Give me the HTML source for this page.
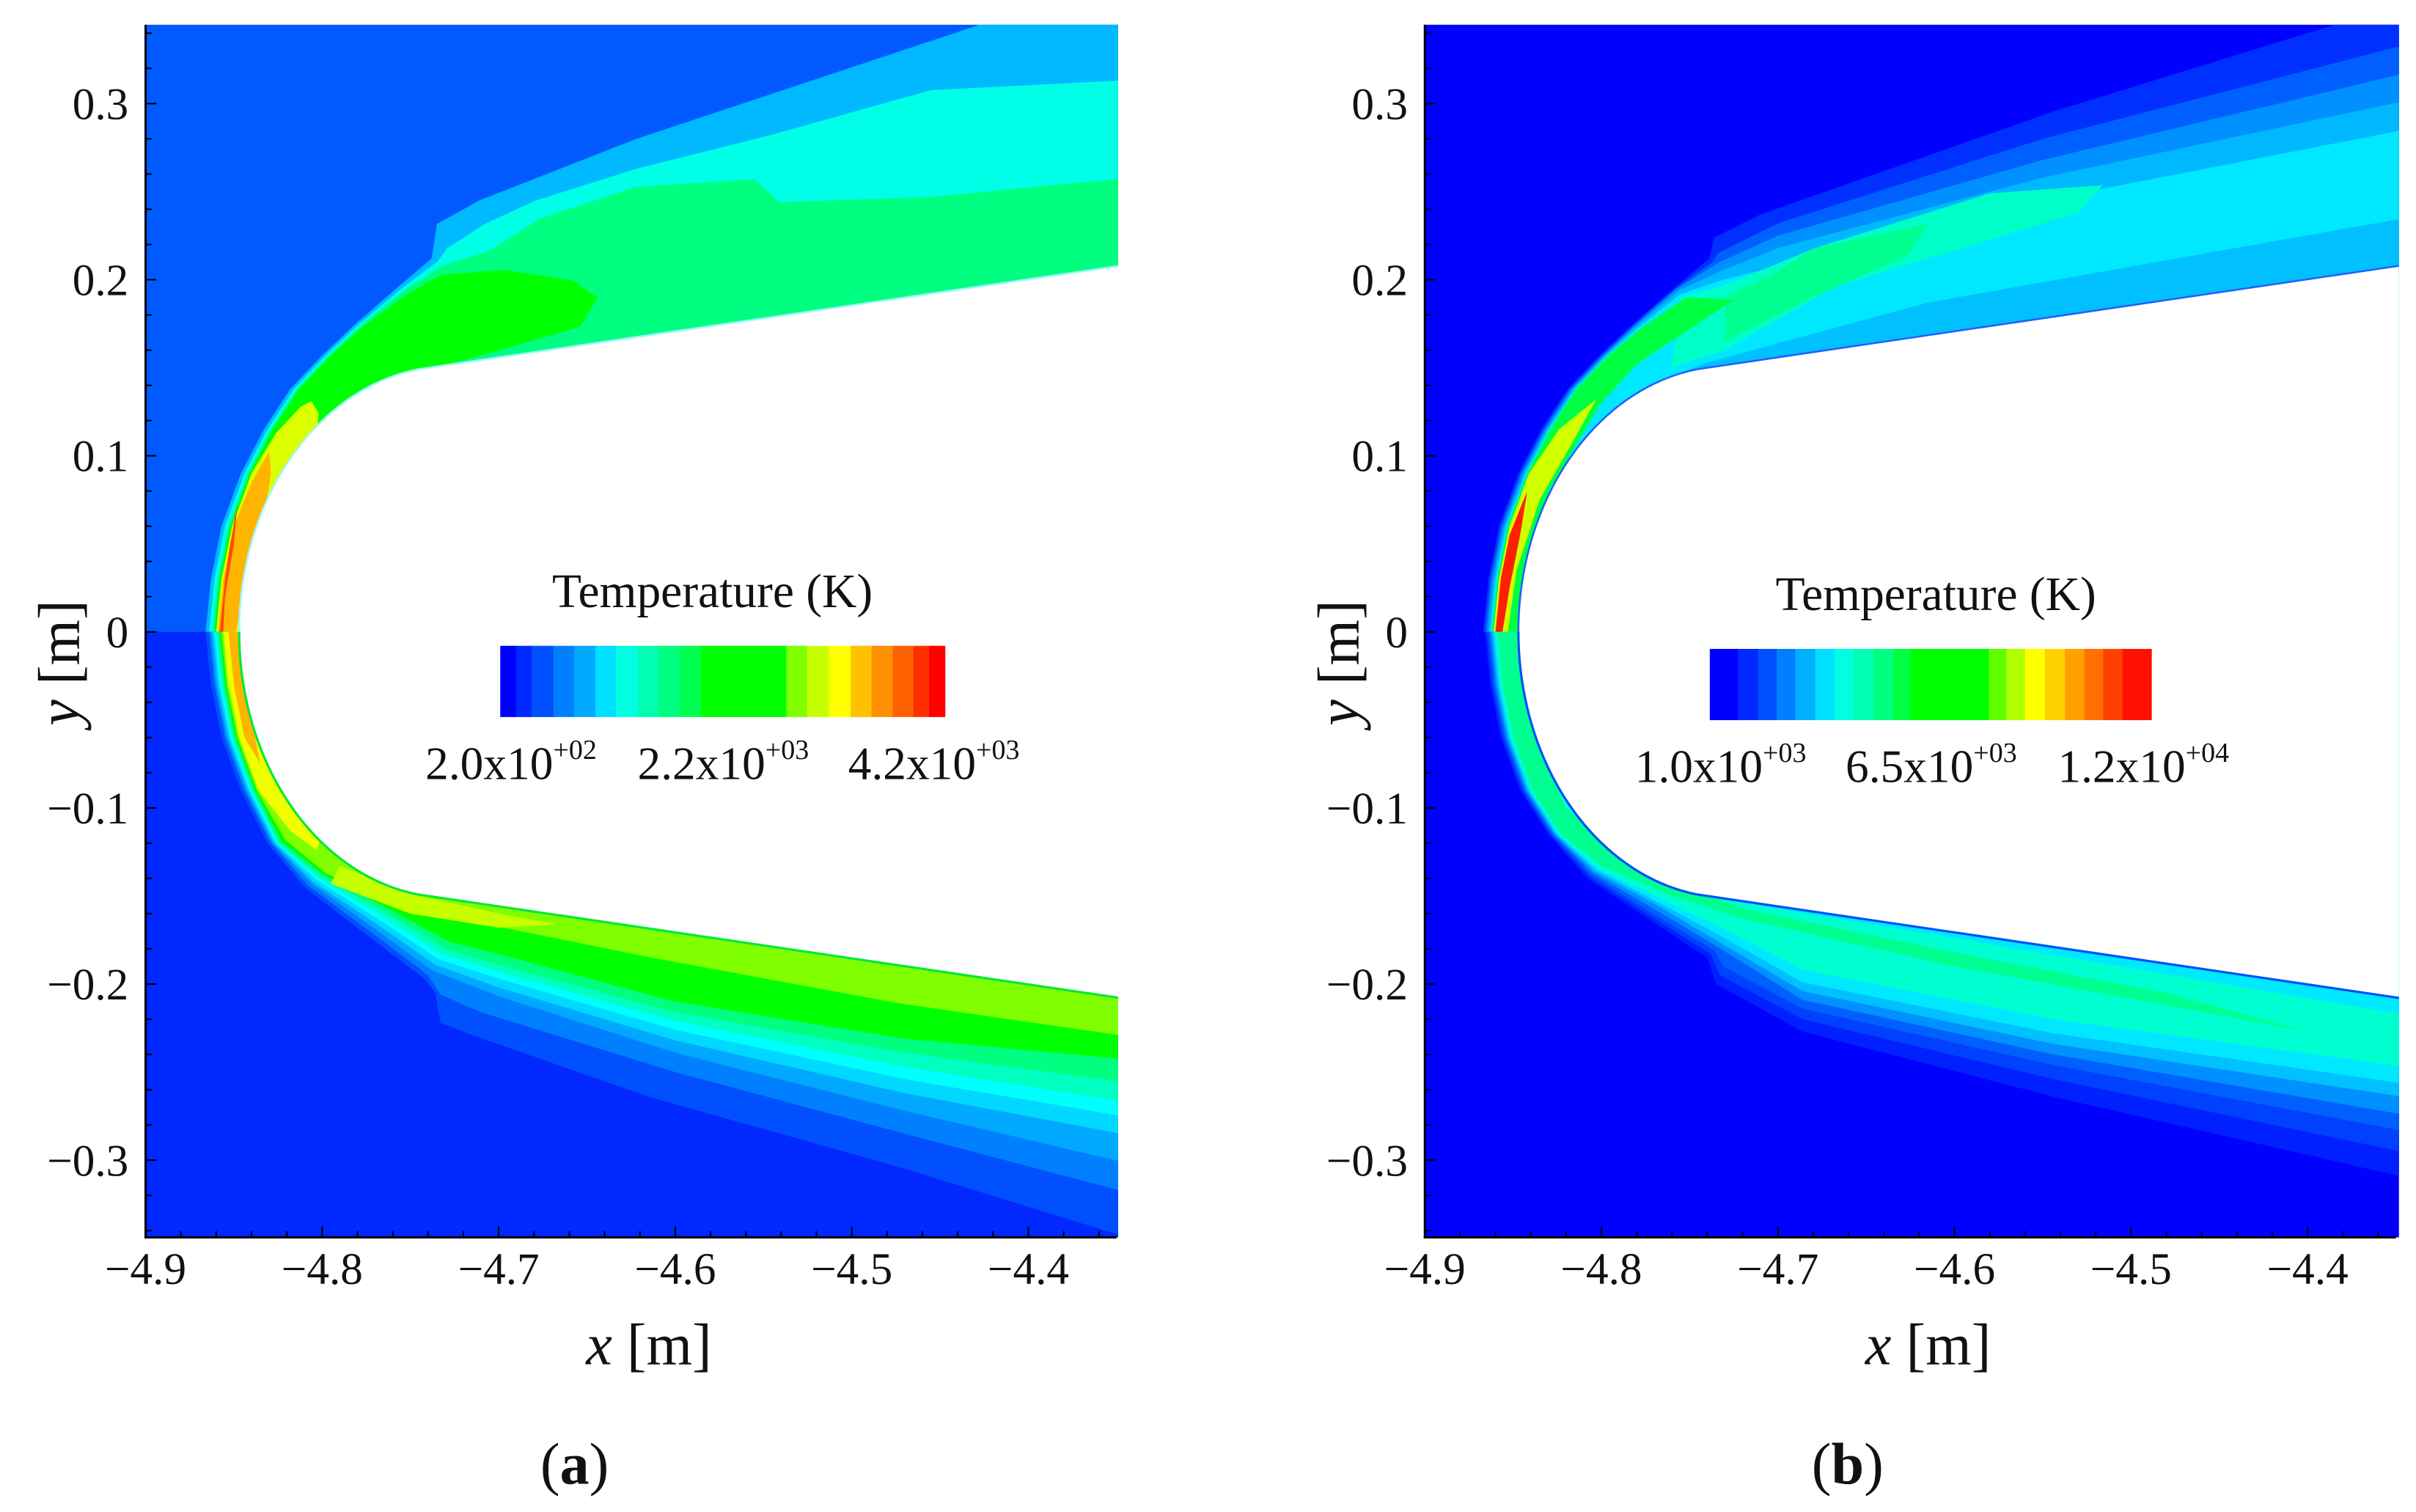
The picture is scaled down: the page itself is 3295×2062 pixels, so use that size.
<!DOCTYPE html>
<html><head><meta charset="utf-8"><style>
html,body{margin:0;padding:0;background:#fff}
svg{display:block}
text{font-family:"Liberation Serif",serif;fill:#111}
</style></head><body>
<svg id="fig" width="3295" height="2062" viewBox="0 0 1560 976.3" preserveAspectRatio="none" xmlns="http://www.w3.org/2000/svg">
<defs>
<clipPath id="clipA"><rect x="94" y="16" width="628" height="783"/></clipPath>
<clipPath id="clipB"><rect x="920" y="16" width="629" height="783"/></clipPath>
</defs>
<g id="panelA"></g>
<g id="panelB"></g>
</svg>
<script>
const xTicks=[-4.9,-4.8,-4.7,-4.6,-4.5,-4.4];
const yTicks=[0.3,0.2,0.1,0,-0.1,-0.2,-0.3];
const xRange=[-4.9,-4.35];
const yRange=[-0.345,0.345];
// body geometry: elliptic nose + straight cone
const noseX=-4.847, noseA=0.12, noseB=0.151, coneEnd=[-4.3,0.215];
// panel (a) contour band boundaries
const aBgUpper='#005aff', aBgLower='#0028ff';
const aUpperBands=[
 {c:'#00b9ff',open:true,p:[[-4.866,0],[-4.863,0.03],[-4.857,0.06],[-4.846,0.09],[-4.833,0.115],[-4.818,0.138],[-4.8,0.157],[-4.782,0.174],[-4.758,0.195],[-4.738,0.212],[-4.735,0.2316],[-4.711,0.245],[-4.622,0.28],[-4.509,0.3176],[-4.427,0.345],[-4.3,0.345]]},
 {c:'#00ffe6',open:true,p:[[-4.864,0],[-4.861,0.03],[-4.855,0.06],[-4.844,0.09],[-4.831,0.115],[-4.816,0.138],[-4.798,0.157],[-4.78,0.174],[-4.755,0.195],[-4.735,0.21],[-4.729,0.218],[-4.708,0.2316],[-4.679,0.245],[-4.622,0.263],[-4.544,0.2827],[-4.455,0.3077],[-4.3,0.3155]]},
 {c:'#00ff80',open:true,p:[[-4.862,0],[-4.859,0.03],[-4.853,0.06],[-4.842,0.09],[-4.829,0.115],[-4.814,0.138],[-4.796,0.157],[-4.778,0.174],[-4.752,0.195],[-4.731,0.2085],[-4.706,0.216],[-4.676,0.235],[-4.622,0.2527],[-4.555,0.257],[-4.541,0.244],[-4.455,0.247],[-4.3,0.262]]},
 {c:'#00ff00',open:false,p:[[-4.861,0],[-4.858,0.03],[-4.852,0.06],[-4.841,0.09],[-4.828,0.115],[-4.813,0.138],[-4.795,0.157],[-4.776,0.174],[-4.75,0.193],[-4.7325,0.2028],[-4.697,0.2056],[-4.658,0.1996],[-4.644,0.1897],[-4.654,0.1732],[-4.704,0.1587],[-4.735,0.15],[-4.76,0.13],[-4.76,0]]},
 {c:'#dcff00',open:false,p:[[-4.86,0],[-4.857,0.03],[-4.851,0.06],[-4.84,0.09],[-4.826,0.113],[-4.812,0.128],[-4.806,0.131],[-4.802,0.124],[-4.803,0.114],[-4.815,0.095],[-4.828,0.07],[-4.84,0.04],[-4.845,0]]},
 {c:'#ffb400',open:false,p:[[-4.859,0],[-4.856,0.03],[-4.85,0.06],[-4.84,0.085],[-4.83,0.1024],[-4.829,0.09],[-4.834,0.059],[-4.842,0.03],[-4.849,0]]},
 {c:'#ff4a00',open:false,p:[[-4.858,0],[-4.855,0.03],[-4.852,0.05],[-4.848,0.0725],[-4.85,0.05],[-4.855,0.02],[-4.856,0]]}
];
const aLowerBands=[
 {c:'#0050ff',open:true,p:[[-4.866,0],[-4.863,-0.03],[-4.857,-0.06],[-4.846,-0.09],[-4.831,-0.12],[-4.81,-0.145],[-4.775,-0.172],[-4.742,-0.197],[-4.736,-0.205],[-4.733,-0.222],[-4.715,-0.229],[-4.615,-0.264],[-4.473,-0.304],[-4.35,-0.342],[-4.3,-0.36]]},
 {c:'#0080ff',open:true,p:[[-4.864,0],[-4.861,-0.03],[-4.855,-0.06],[-4.844,-0.09],[-4.829,-0.12],[-4.808,-0.144],[-4.773,-0.17],[-4.74,-0.195],[-4.733,-0.206],[-4.71,-0.216],[-4.6,-0.25],[-4.47,-0.285],[-4.3,-0.33]]},
 {c:'#00a8ff',open:true,p:[[-4.863,0],[-4.86,-0.03],[-4.854,-0.06],[-4.843,-0.09],[-4.828,-0.12],[-4.806,-0.143],[-4.771,-0.168],[-4.738,-0.192],[-4.7,-0.207],[-4.6,-0.239],[-4.47,-0.272],[-4.3,-0.312]]},
 {c:'#00d8ff',open:true,p:[[-4.862,0],[-4.859,-0.03],[-4.853,-0.06],[-4.842,-0.09],[-4.827,-0.12],[-4.805,-0.142],[-4.769,-0.166],[-4.736,-0.189],[-4.7,-0.202],[-4.6,-0.232],[-4.47,-0.262],[-4.3,-0.294]]},
 {c:'#00ffff',open:true,p:[[-4.861,0],[-4.858,-0.03],[-4.852,-0.06],[-4.841,-0.09],[-4.826,-0.12],[-4.803,-0.141],[-4.767,-0.164],[-4.734,-0.186],[-4.7,-0.197],[-4.6,-0.226],[-4.47,-0.254],[-4.3,-0.283]]},
 {c:'#00ffc0',open:true,p:[[-4.86,0],[-4.857,-0.03],[-4.851,-0.06],[-4.84,-0.09],[-4.825,-0.12],[-4.802,-0.14],[-4.765,-0.162],[-4.732,-0.183],[-4.7,-0.193],[-4.6,-0.221],[-4.47,-0.247],[-4.3,-0.274]]},
 {c:'#00ff80',open:true,p:[[-4.859,0],[-4.856,-0.03],[-4.85,-0.06],[-4.839,-0.09],[-4.824,-0.12],[-4.8,-0.139],[-4.763,-0.16],[-4.73,-0.18],[-4.7,-0.189],[-4.6,-0.216],[-4.47,-0.239],[-4.3,-0.262]]},
 {c:'#00ff00',open:true,p:[[-4.858,0],[-4.855,-0.03],[-4.849,-0.06],[-4.838,-0.09],[-4.823,-0.119],[-4.799,-0.138],[-4.761,-0.158],[-4.728,-0.176],[-4.7,-0.183],[-4.6,-0.21],[-4.47,-0.231],[-4.3,-0.247]]},
 {c:'#80ff00',open:true,p:[[-4.857,0],[-4.854,-0.03],[-4.848,-0.06],[-4.837,-0.09],[-4.821,-0.118],[-4.798,-0.137],[-4.77,-0.15],[-4.722,-0.163],[-4.615,-0.1847],[-4.473,-0.211],[-4.3,-0.236]]},
 {c:'#c8ff00',open:false,p:[[-4.79,-0.133],[-4.75,-0.149],[-4.7,-0.16],[-4.667,-0.166],[-4.7,-0.168],[-4.75,-0.16],[-4.795,-0.143]]},
 {c:'#f0ff00',open:false,p:[[-4.856,0],[-4.853,-0.03],[-4.847,-0.06],[-4.836,-0.09],[-4.818,-0.113],[-4.803,-0.124],[-4.8,-0.114],[-4.815,-0.09],[-4.83,-0.06],[-4.84,-0.03],[-4.845,0]]},
 {c:'#ffb400',open:false,p:[[-4.853,0],[-4.85,-0.03],[-4.844,-0.06],[-4.835,-0.075],[-4.838,-0.06],[-4.845,-0.03],[-4.848,0]]}
];
// panel (b)
const bBg='#0000ff';
const bUpperBands=[
 {c:'#0030ff',open:true,p:[[-4.867,0],[-4.864,0.03],[-4.858,0.06],[-4.847,0.09],[-4.834,0.115],[-4.819,0.138],[-4.801,0.157],[-4.783,0.174],[-4.759,0.195],[-4.739,0.212],[-4.736,0.224],[-4.71,0.237],[-4.544,0.2955],[-4.384,0.345],[-4.3,0.345]]},
 {c:'#0060ff',open:true,p:[[-4.866,0],[-4.863,0.03],[-4.857,0.06],[-4.846,0.09],[-4.833,0.115],[-4.818,0.138],[-4.8,0.157],[-4.782,0.174],[-4.758,0.195],[-4.737,0.21],[-4.734,0.215],[-4.7,0.232],[-4.55,0.28],[-4.3,0.345]]},
 {c:'#0090ff',open:true,p:[[-4.865,0],[-4.862,0.03],[-4.856,0.06],[-4.845,0.09],[-4.832,0.115],[-4.817,0.138],[-4.799,0.157],[-4.781,0.174],[-4.757,0.195],[-4.733,0.21],[-4.7,0.225],[-4.55,0.268],[-4.3,0.328]]},
 {c:'#00b8ff',open:true,p:[[-4.864,0],[-4.861,0.03],[-4.855,0.06],[-4.844,0.09],[-4.831,0.115],[-4.816,0.138],[-4.798,0.157],[-4.78,0.174],[-4.756,0.194],[-4.732,0.205],[-4.7,0.218],[-4.55,0.258],[-4.3,0.311]]},
 {c:'#00e8ff',open:true,p:[[-4.863,0],[-4.86,0.03],[-4.854,0.06],[-4.843,0.09],[-4.83,0.115],[-4.815,0.138],[-4.797,0.157],[-4.779,0.173],[-4.755,0.192],[-4.731,0.2],[-4.69,0.21],[-4.55,0.245],[-4.3,0.294]]},
 {c:'#00ffc8',open:false,p:[[-4.755,0.19],[-4.732,0.196],[-4.679,0.218],[-4.58,0.249],[-4.516,0.2537],[-4.53,0.238],[-4.58,0.2227],[-4.668,0.196],[-4.73,0.16],[-4.76,0.15]]},
 {c:'#00ff90',open:false,p:[[-4.73,0.19],[-4.7,0.205],[-4.679,0.218],[-4.615,0.2316],[-4.626,0.214],[-4.68,0.19],[-4.73,0.165]]},
 {c:'#00c0ff',open:false,p:[[-4.76,0.145],[-4.74,0.153],[-4.615,0.187],[-4.3,0.243],[-4.3,0.2],[-4.76,0.13]]},
 {c:'#00ff40',open:false,p:[[-4.862,0],[-4.859,0.03],[-4.853,0.06],[-4.842,0.09],[-4.829,0.115],[-4.814,0.138],[-4.796,0.157],[-4.778,0.172],[-4.752,0.19],[-4.725,0.1885],[-4.75,0.172],[-4.78,0.152],[-4.8,0.13],[-4.83,0.08],[-4.845,0]]},
 {c:'#d0ff00',open:false,p:[[-4.861,0],[-4.858,0.03],[-4.852,0.06],[-4.841,0.09],[-4.824,0.115],[-4.803,0.132],[-4.815,0.11],[-4.835,0.075],[-4.848,0.035],[-4.853,0]]},
 {c:'#ff2000',open:false,p:[[-4.86,0],[-4.857,0.03],[-4.852,0.055],[-4.842,0.08],[-4.846,0.055],[-4.852,0.025],[-4.856,0]]}
];
const bLowerBands=[
 {c:'#0020ff',open:true,p:[[-4.866,0],[-4.863,-0.03],[-4.857,-0.06],[-4.846,-0.09],[-4.83,-0.115],[-4.808,-0.14],[-4.775,-0.162],[-4.74,-0.185],[-4.735,-0.2],[-4.686,-0.227],[-4.544,-0.264],[-4.3,-0.32]]},
 {c:'#0040ff',open:true,p:[[-4.865,0],[-4.862,-0.03],[-4.856,-0.06],[-4.845,-0.09],[-4.829,-0.115],[-4.807,-0.139],[-4.773,-0.161],[-4.738,-0.183],[-4.733,-0.195],[-4.686,-0.22],[-4.544,-0.254],[-4.3,-0.305]]},
 {c:'#0060ff',open:true,p:[[-4.864,0],[-4.861,-0.03],[-4.855,-0.06],[-4.844,-0.09],[-4.828,-0.115],[-4.806,-0.138],[-4.771,-0.16],[-4.736,-0.181],[-4.731,-0.19],[-4.686,-0.214],[-4.544,-0.246],[-4.3,-0.292]]},
 {c:'#0090ff',open:true,p:[[-4.863,0],[-4.86,-0.03],[-4.854,-0.06],[-4.843,-0.09],[-4.827,-0.115],[-4.805,-0.137],[-4.769,-0.158],[-4.734,-0.179],[-4.686,-0.209],[-4.544,-0.24],[-4.3,-0.282]]},
 {c:'#00c0ff',open:true,p:[[-4.862,0],[-4.859,-0.03],[-4.853,-0.06],[-4.842,-0.09],[-4.826,-0.115],[-4.804,-0.136],[-4.767,-0.156],[-4.732,-0.177],[-4.686,-0.204],[-4.544,-0.234],[-4.3,-0.271]]},
 {c:'#00e8ff',open:true,p:[[-4.861,0],[-4.858,-0.03],[-4.852,-0.06],[-4.841,-0.09],[-4.825,-0.115],[-4.803,-0.135],[-4.765,-0.155],[-4.73,-0.174],[-4.686,-0.199],[-4.544,-0.228],[-4.3,-0.263]]},
 {c:'#00ffd0',open:true,p:[[-4.86,0],[-4.857,-0.03],[-4.851,-0.06],[-4.84,-0.09],[-4.824,-0.115],[-4.802,-0.134],[-4.763,-0.153],[-4.728,-0.17],[-4.686,-0.192],[-4.544,-0.22],[-4.3,-0.253]]},
 {c:'#00ff90',open:false,p:[[-4.859,0],[-4.856,-0.03],[-4.85,-0.06],[-4.839,-0.09],[-4.823,-0.115],[-4.8,-0.133],[-4.76,-0.15],[-4.72,-0.163],[-4.6,-0.19],[-4.48,-0.212],[-4.4,-0.227],[-4.48,-0.205],[-4.6,-0.182],[-4.72,-0.157],[-4.78,-0.135],[-4.82,-0.1],[-4.84,-0.05],[-4.846,0]]},
 {c:'#00e8ff',open:false,p:[[-4.76,-0.14],[-4.72,-0.154],[-4.6,-0.174],[-4.3,-0.225],[-4.3,-0.2],[-4.76,-0.125]]}
];
// colorbars
const cbarAColors=['#0000ff','#0028ff','#0050ff','#0080ff','#00a8ff','#00e0ff','#00ffe0','#00ffb0','#00ff80','#00ff50','#00ff00','#80ff00','#c8ff00','#ffff00','#ffc000','#ff9000','#ff6000','#ff3000','#ff0000'];
const cbarAWidths=[25,25,35,33,34,33,35,33,34,33,137,33,35,35,33,34,33,25,25];
const cbarBColors=['#0000ff','#0028ff','#0050ff','#0080ff','#00b0ff','#00e0ff','#00ffe0','#00ffb0','#00ff80','#00ff40','#00ff00','#60ff00','#b0ff00','#ffff00','#ffd000','#ffa000','#ff7000','#ff4000','#ff1000'];
const cbarBWidths=[45,32,30,30,32,31,30,32,32,28,125,28,30,32,32,31,30,31,46];
const cbarALabels=[['2.0x10','+02'],['2.2x10','+03'],['4.2x10','+03']];
const cbarBLabels=[['1.0x10','+03'],['6.5x10','+03'],['1.2x10','+04']];

const NS='http://www.w3.org/2000/svg';
function mk(tag,attrs,parent){const e=document.createElementNS(NS,tag);for(const k in attrs)e.setAttribute(k,attrs[k]);if(parent)parent.appendChild(e);return e;}
function fmt(v){const s=(Math.abs(v)<1e-9)?'0':String(Math.abs(v));return (v<-1e-9?'\u2212':'')+s;}
function bodyOutline(){
  // upper contour from cone end to nose
  const pts=[coneEnd];
  const xc=noseX+noseA;
  const n=40;
  const arc=[];
  for(let i=0;i<=n;i++){const t=i/n*(Math.PI/2)*0.9;
    const x=xc-noseA*Math.cos(t), y=noseB*Math.sin(t); arc.push([x,y]);}
  arc.reverse();
  return pts.concat(arc);
}
const bodyUpper=bodyOutline();

function drawPanel(g,off,clipId,bgUpper,bgLower,upper,lower,bodyStrokeU,bodyStrokeL,cbar,letter){
  const X=x=>off+94+(x-xRange[0])*1140;
  const Y=y=>408-y*1137;
  const pts=a=>a.map(p=>X(p[0]).toFixed(2)+','+Y(p[1]).toFixed(2)).join(' ');
  const field=mk('g',{'clip-path':'url(#'+clipId+')'},g);
  
  
  const bu=mk('rect',{x:off+90,y:10,width:640,height:400,fill:bgUpper},field);
  
  
  const bl=mk('rect',{x:off+90,y:408,width:640,height:400,fill:bgLower},field);
  
  
  upper.forEach(b=>{
    const p=b.open?b.p.concat([[-4.3,0]]):b.p;
    const e=mk('polygon',{points:pts(p),fill:b.c},field);
    
    
  });
  lower.forEach(b=>{
    const p=b.open?b.p.concat([[-4.3,0]]):b.p;
    const e=mk('polygon',{points:pts(p),fill:b.c},field);
    
    
  });
  const bodyLow=bodyUpper.slice().reverse().map(p=>[p[0],-p[1]]);
  const body=mk('polygon',{points:pts(bodyUpper.concat(bodyLow.slice(1))),fill:'#ffffff'},field);
  
  
  const su=mk('polyline',{points:pts(bodyUpper),fill:'none',stroke:bodyStrokeU,'stroke-width':1.2},field);
  
  
  const sl=mk('polyline',{points:pts(bodyLow),fill:'none',stroke:bodyStrokeL,'stroke-width':1.5},field);
  
  
  // axes
  const ax=mk('g',{},g);
  
  
  const yl=mk('line',{x1:off+94,y1:16,x2:off+94,y2:799.5,stroke:'#000','stroke-width':1.4},ax);
  
  
  const xl=mk('line',{x1:off+93.3,y1:799,x2:X(xRange[1]),y2:799,stroke:'#000','stroke-width':1.4},ax);
  
  
  for(let k=0;k<=27;k++){const xv=-4.9+k*0.02; const major=k%5===0; const px=X(xv);
    const t=mk('line',{x1:px,y1:799,x2:px,y2:799-(major?7:4),stroke:'#000','stroke-width':1},ax);
    
    }
  for(let k=-17;k<=17;k++){const yv=k*0.02; const major=k%5===0; const py=Y(yv);
    const t=mk('line',{x1:off+94,y1:py,x2:off+94+(major?7:4),y2:py,stroke:'#000','stroke-width':1},ax);
    
    }
  xTicks.forEach(v=>{const t=mk('text',{x:X(v),y:829,'font-size':29,'text-anchor':'middle'},ax);t.textContent=fmt(Math.round(v*10)/10);
    
    });
  yTicks.forEach(v=>{const t=mk('text',{x:off+83,y:Y(v)+10,'font-size':29,'text-anchor':'end'},ax);t.textContent=fmt(Math.round(v*10)/10);
    
    });
  const xt=mk('text',{x:off+419,y:881,'font-size':38,'text-anchor':'middle'},g);
  
  
  xt.innerHTML='<tspan font-style="italic">x</tspan> [m]';
  const yt=mk('text',{x:0,y:0,'font-size':38,'text-anchor':'middle',transform:'translate('+(off+51)+',428) rotate(-90)'},g);
  
  
  yt.innerHTML='<tspan font-style="italic">y</tspan> [m]';
  const lt=mk('text',{x:off+(letter==='a'?371:367),y:958,'font-size':38,'text-anchor':'middle'},g);
  
  
  lt.innerHTML='(<tspan font-weight="bold">'+letter+'</tspan>)';
  // colorbar legend
  const lg=mk('g',{},g);
  
  
  const title=mk('text',{x:cbar.cx,y:cbar.ty,'font-size':31,'text-anchor':'middle'},lg);
  
  
  title.textContent='Temperature (K)';
  const tot=cbar.widths.reduce((a,b)=>a+b,0);
  let cx=cbar.x0;
  cbar.colors.forEach((c,i)=>{const w=cbar.widths[i]/tot*(cbar.x1-cbar.x0);
    const r=mk('rect',{x:cx,y:cbar.y0,width:w+0.4,height:cbar.h,fill:c},lg);
    
    
    cx+=w;});
  cbar.labels.forEach((l,i)=>{const t=mk('text',{x:cbar.lx[i],y:cbar.y0+cbar.h+40,'font-size':30,'text-anchor':'middle'},lg);
    t.innerHTML=l[0]+'<tspan font-size="18" dy="-13">'+l[1]+'</tspan>';
    
    });
}
drawPanel(document.getElementById('panelA'),0,'clipA',aBgUpper,aBgLower,aUpperBands,aLowerBands,'#9ff8ff','#00e838',
 {cx:460,ty:392,x0:323,x1:610,y0:417,h:46,colors:cbarAColors,widths:cbarAWidths,labels:cbarALabels,lx:[330,467,603]},'a');
drawPanel(document.getElementById('panelB'),826,'clipB',bBg,bBg,bUpperBands,bLowerBands,'#2060ff','#0050ff',
 {cx:1250,ty:394,x0:1104,x1:1389,y0:419,h:46,colors:cbarBColors,widths:cbarBWidths,labels:cbarBLabels,lx:[1111,1247,1384]},'b');
</script>
</body></html>
